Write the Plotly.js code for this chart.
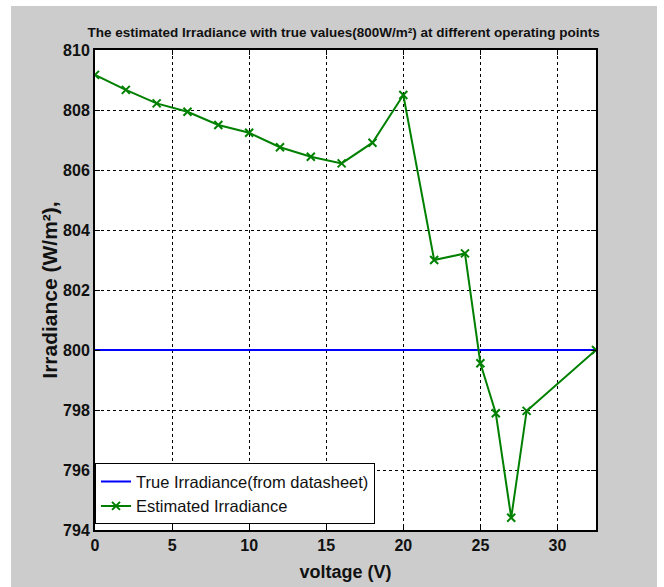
<!DOCTYPE html>
<html>
<head>
<meta charset="utf-8">
<script src="https://cdn.plot.ly/plotly-3.0.1.min.js"></script>
<style>
  html, body { margin: 0; padding: 0; background: #ffffff; width: 664px; height: 587px; overflow: hidden; }
  #chart { position: absolute; left: 11px; top: 6px; width: 646px; height: 581px; }
</style>
</head>
<body>
<div id="chart"></div>
<script>
const voltage = [0, 2, 4, 6, 8, 10, 12, 14, 16, 18, 20, 22, 24, 25, 26, 27, 28, 32.5];
const estimatedIrradiance = [809.17, 808.67, 808.22, 807.94, 807.5, 807.24, 806.76, 806.44, 806.22, 806.91, 808.5, 803.0, 803.22, 799.56, 797.89, 794.41, 797.97, 800.0];
const trueVoltage = [0, 32.5];
const trueIrradiance = [800, 800];
const xTicks = [0, 5, 10, 15, 20, 25, 30];
const yTicks = [794, 796, 798, 800, 802, 804, 806, 808, 810];

const sans = '"Liberation Sans", Arial, sans-serif';

const traces = [
  {
    x: trueVoltage, y: trueIrradiance, type: 'scatter', mode: 'lines',
    name: 'True Irradiance(from datasheet)',
    line: { color: '#0000ff', width: 2 }
  },
  {
    x: voltage, y: estimatedIrradiance, type: 'scatter', mode: 'lines+markers',
    name: 'Estimated Irradiance',
    line: { color: '#008000', width: 2 },
    marker: { symbol: 'x-thin', size: 8, color: '#008000', line: { color: '#008000', width: 2 } }
  }
];

const axisCommon = {
  showline: true, mirror: 'ticks', linecolor: '#000', linewidth: 2,
  ticks: 'inside', ticklen: 5, tickcolor: '#000', tickwidth: 1,
  showgrid: true, gridcolor: '#000', gridwidth: 1, griddash: '3px,3px',
  zeroline: false,
  tickfont: { family: sans, size: 16, color: '#111', weight: 700 }
};

const layout = {
  width: 646, height: 581,
  margin: { l: 84, r: 61, t: 44, b: 57 },
  paper_bgcolor: '#cccccc',
  plot_bgcolor: '#ffffff',
  title: {
    text: 'The estimated Irradiance with true values(800W/m²) at different operating points',
    font: { family: sans, size: 13.5, color: '#111', weight: 700 },
    x: 0.515, xanchor: 'center', y: 0.955, yanchor: 'middle'
  },
  xaxis: Object.assign({}, axisCommon, {
    range: [0, 32.5], tickvals: xTicks, ticktext: xTicks.map(String),
    title: { text: 'voltage (V)', font: { family: sans, size: 18, color: '#111', weight: 700 }, standoff: 12 }
  }),
  yaxis: Object.assign({}, axisCommon, {
    range: [794, 810], tickvals: yTicks, ticktext: yTicks.map(String),
    title: { text: 'Irradiance (W/m²),', font: { family: sans, size: 21, color: '#111', weight: 700 }, standoff: 0 }
  }),
  showlegend: true,
  legend: {
    x: 0, xanchor: 'left', y: 0.012, yanchor: 'bottom',
    bgcolor: '#ffffff', bordercolor: '#000', borderwidth: 1,
    font: { family: sans, size: 16.5, color: '#111' },
    tracegroupgap: 0
  }
};

Plotly.newPlot('chart', traces, layout, { displayModeBar: false, staticPlot: true });
</script>
</body>
</html>
